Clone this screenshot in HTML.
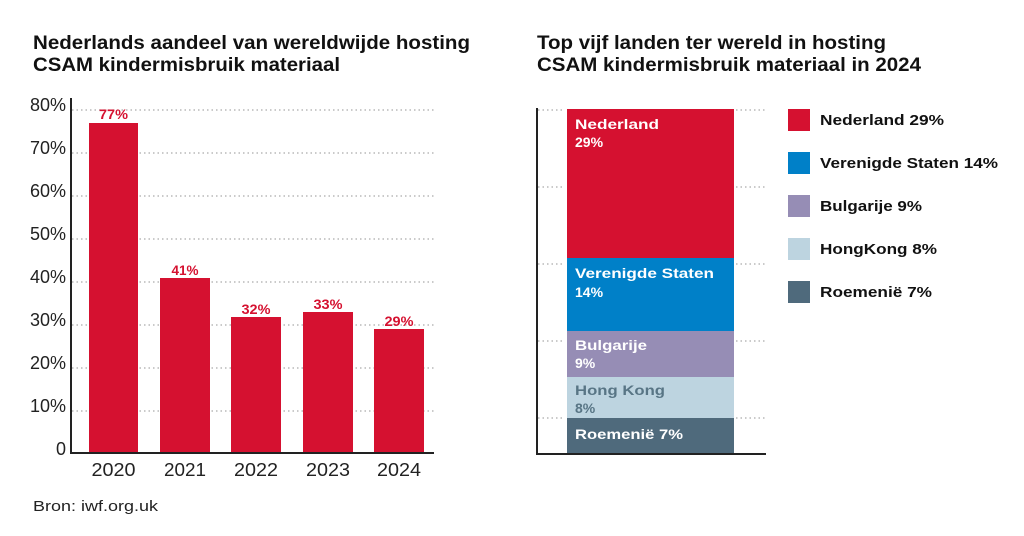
<!DOCTYPE html>
<html><head><meta charset="utf-8"><style>
html,body{margin:0;padding:0;background:#fff;}
svg{display:block;font-family:"Liberation Sans",sans-serif;}
</style></head><body>
<svg width="1024" height="536" viewBox="0 0 1024 536" xmlns="http://www.w3.org/2000/svg">
<rect width="1024" height="536" fill="#fff"/>
<g font-weight="bold" font-size="19" fill="#111">
<text x="33" y="49" textLength="437" lengthAdjust="spacingAndGlyphs">Nederlands aandeel van wereldwijde hosting</text>
<text x="33" y="71" textLength="307" lengthAdjust="spacingAndGlyphs">CSAM kindermisbruik materiaal</text>
<text x="537" y="49" textLength="349" lengthAdjust="spacingAndGlyphs">Top vijf landen ter wereld in hosting</text>
<text x="537" y="71" textLength="384" lengthAdjust="spacingAndGlyphs">CSAM kindermisbruik materiaal in 2024</text>
</g>
<g stroke="#aaa" stroke-width="1.3" stroke-dasharray="1.5 3">
<line x1="72" x2="434" y1="110" y2="110"/><line x1="72" x2="434" y1="153" y2="153"/>
<line x1="72" x2="434" y1="196" y2="196"/><line x1="72" x2="434" y1="239" y2="239"/>
<line x1="72" x2="434" y1="282" y2="282"/><line x1="72" x2="434" y1="325" y2="325"/>
<line x1="72" x2="434" y1="368" y2="368"/><line x1="72" x2="434" y1="411" y2="411"/>
</g>
<g fill="#d51130">
<rect x="89" y="123" width="49" height="330"/>
<rect x="160" y="278" width="50" height="175"/>
<rect x="231" y="317" width="50" height="136"/>
<rect x="303" y="312" width="50" height="141"/>
<rect x="374" y="329" width="50" height="124"/>
</g>
<g fill="#d51130" font-weight="bold" font-size="14" text-anchor="middle">
<text x="113.5" y="119" textLength="29" lengthAdjust="spacingAndGlyphs">77%</text>
<text x="185" y="275" textLength="27" lengthAdjust="spacingAndGlyphs">41%</text>
<text x="256" y="314" textLength="29" lengthAdjust="spacingAndGlyphs">32%</text>
<text x="328" y="309" textLength="29" lengthAdjust="spacingAndGlyphs">33%</text>
<text x="399" y="326" textLength="29" lengthAdjust="spacingAndGlyphs">29%</text>
</g>
<path d="M71 98 V453 H434" fill="none" stroke="#222" stroke-width="2"/>
<g font-size="18" fill="#222" text-anchor="end">
<text x="66" y="111">80%</text><text x="66" y="154">70%</text><text x="66" y="197">60%</text><text x="66" y="240">50%</text>
<text x="66" y="283">40%</text><text x="66" y="326">30%</text><text x="66" y="369">20%</text><text x="66" y="412">10%</text><text x="66" y="455">0</text>
</g>
<g font-size="18" fill="#222" text-anchor="middle">
<text x="113.5" y="476" textLength="44" lengthAdjust="spacingAndGlyphs">2020</text>
<text x="185" y="476" textLength="42" lengthAdjust="spacingAndGlyphs">2021</text>
<text x="256" y="476" textLength="44" lengthAdjust="spacingAndGlyphs">2022</text>
<text x="328" y="476" textLength="44" lengthAdjust="spacingAndGlyphs">2023</text>
<text x="399" y="476" textLength="44" lengthAdjust="spacingAndGlyphs">2024</text>
</g>
<text x="33" y="511" font-size="15" fill="#222" textLength="125" lengthAdjust="spacingAndGlyphs">Bron: iwf.org.uk</text>
<g stroke="#aaa" stroke-width="1.3" stroke-dasharray="1.5 3">
<line x1="538" x2="565" y1="110" y2="110"/><line x1="736" x2="766" y1="110" y2="110"/>
<line x1="538" x2="565" y1="187" y2="187"/><line x1="736" x2="766" y1="187" y2="187"/>
<line x1="538" x2="565" y1="264" y2="264"/><line x1="736" x2="766" y1="264" y2="264"/>
<line x1="538" x2="565" y1="341" y2="341"/><line x1="736" x2="766" y1="341" y2="341"/>
<line x1="538" x2="565" y1="418" y2="418"/><line x1="736" x2="766" y1="418" y2="418"/>
</g>
<rect x="567" y="109" width="167" height="149" fill="#d51130"/>
<rect x="567" y="258" width="167" height="73" fill="#0080c8"/>
<rect x="567" y="331" width="167" height="46" fill="#968db5"/>
<rect x="567" y="377" width="167" height="41" fill="#bdd4e0"/>
<rect x="567" y="418" width="167" height="36" fill="#4f6a7c"/>
<path d="M537 108 V454 H766" fill="none" stroke="#222" stroke-width="2"/>
<g font-weight="bold" font-size="14" fill="#fff">
<text x="575" y="129" textLength="84" lengthAdjust="spacingAndGlyphs">Nederland</text><text x="575" y="147">29%</text>
<text x="575" y="278" textLength="139" lengthAdjust="spacingAndGlyphs">Verenigde Staten</text><text x="575" y="297">14%</text>
<text x="575" y="350" textLength="72" lengthAdjust="spacingAndGlyphs">Bulgarije</text><text x="575" y="368">9%</text>
<text x="575" y="395" fill="#587585" textLength="90" lengthAdjust="spacingAndGlyphs">Hong Kong</text><text x="575" y="413" fill="#587585">8%</text>
<text x="575" y="439" textLength="108" lengthAdjust="spacingAndGlyphs">Roemenië 7%</text>
</g>
<rect x="788" y="109" width="22" height="22" fill="#d51130"/>
<rect x="788" y="152" width="22" height="22" fill="#0080c8"/>
<rect x="788" y="195" width="22" height="22" fill="#968db5"/>
<rect x="788" y="238" width="22" height="22" fill="#bdd4e0"/>
<rect x="788" y="281" width="22" height="22" fill="#4f6a7c"/>
<g font-size="15" font-weight="bold" fill="#111">
<text x="820" y="125" textLength="124" lengthAdjust="spacingAndGlyphs">Nederland 29%</text>
<text x="820" y="168" textLength="178" lengthAdjust="spacingAndGlyphs">Verenigde Staten 14%</text>
<text x="820" y="211" textLength="102" lengthAdjust="spacingAndGlyphs">Bulgarije 9%</text>
<text x="820" y="254" textLength="117" lengthAdjust="spacingAndGlyphs">HongKong 8%</text>
<text x="820" y="297" textLength="112" lengthAdjust="spacingAndGlyphs">Roemenië 7%</text>
</g>
</svg>
</body></html>
